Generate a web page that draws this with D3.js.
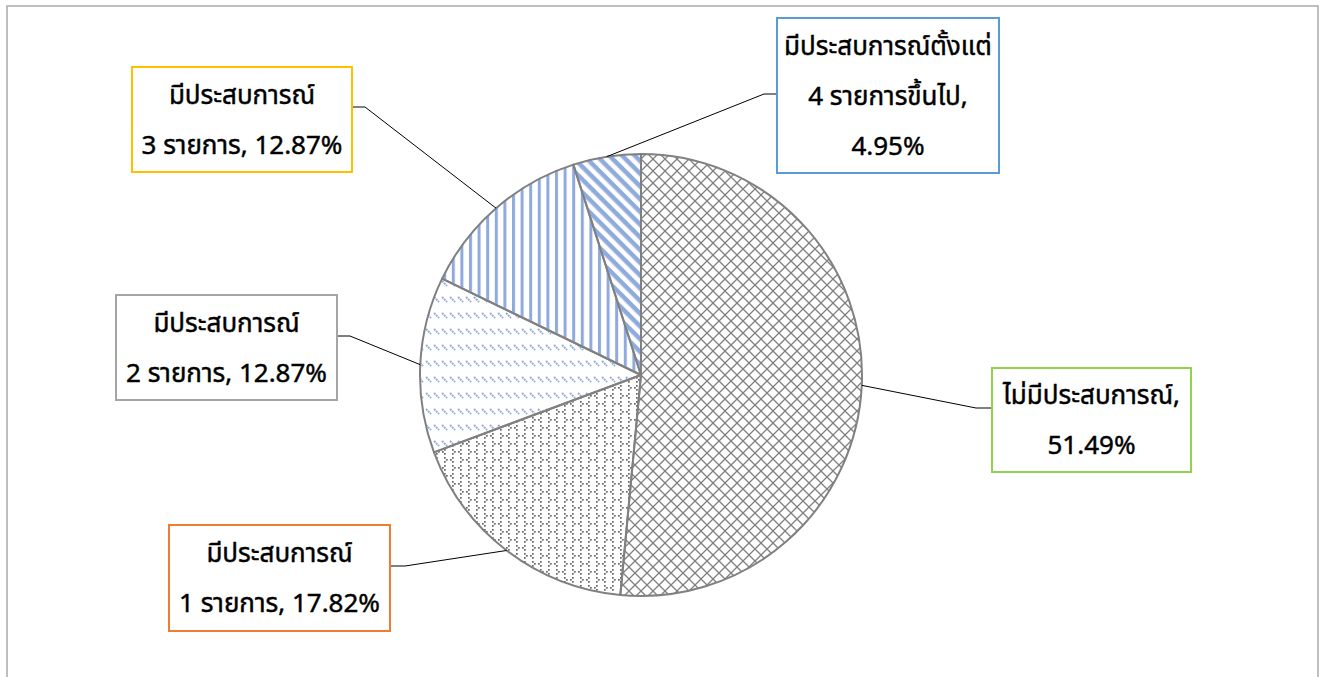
<!DOCTYPE html>
<html>
<head>
<meta charset="utf-8">
<script src="https://cdn.jsdelivr.net/npm/d3@7"></script>
<style>
  body { margin: 0; background: #fff; }
  svg text { font-family: Tahoma, "Noto Sans Thai", "Noto Sans", sans-serif; }
</style>
</head>
<body>
<div id="chart"></div>
<script>
var width = 1327;
var height = 677;

// data
var categories = ["ไม่มีประสบการณ์", "มีประสบการณ์ 1 รายการ", "มีประสบการณ์ 2 รายการ",
                  "มีประสบการณ์ 3 รายการ", "มีประสบการณ์ตั้งแต่ 4 รายการขึ้นไป"];
var values = [51.49, 17.82, 12.87, 12.87, 4.95];
var labelLines = [
  ["ไม่มีประสบการณ์,", "51.49%"],
  ["มีประสบการณ์", "1 รายการ, 17.82%"],
  ["มีประสบการณ์", "2 รายการ, 12.87%"],
  ["มีประสบการณ์", "3 รายการ, 12.87%"],
  ["มีประสบการณ์ตั้งแต่", "4 รายการขึ้นไป,", "4.95%"]
];
var boxColors = ["#92D050", "#ED7D31", "#A5A5A5", "#FFC000", "#5B9BD5"];
var patternIds = ["pDiamond", "pDots", "pDash", "pVert", "pWide"];

// label box layout (x, y, w, h) and elbow point of the leader line
var boxes = [
  {x: 992, y: 368, w: 199, h: 104, ex: 976, ey: 408, side: "left"},
  {x: 169, y: 525, w: 221, h: 106, ex: 405, ey: 566, side: "right"},
  {x: 116, y: 295, w: 221, h: 105, ex: 350, ey: 336, side: "right"},
  {x: 132, y: 67,  w: 220, h: 105, ex: 365, ey: 107, side: "right"},
  {x: 777, y: 18,  w: 222, h: 155, ex: 764, ey: 94,  side: "left"}
];

var cx = 641, cy = 375, radius = 221;
var blue = "#8FAADC", grey = "#7F7F7F";

var svg = d3.select("#chart").append("svg")
    .attr("width", width)
    .attr("height", height);

var defs = svg.append("defs");

// diamond lattice
var p0 = defs.append("pattern").attr("id", "pDiamond")
    .attr("patternUnits", "userSpaceOnUse").attr("width", 12).attr("height", 12);
p0.append("path").attr("d", "M0,0L12,12M12,0L0,12")
    .attr("stroke", grey).attr("stroke-width", 1.3).attr("fill", "none");

// small dotted chevrons
var p1 = defs.append("pattern").attr("id", "pDots")
    .attr("patternUnits", "userSpaceOnUse").attr("width", 16).attr("height", 16);
[[0, 4], [8, 12]].forEach(function(o) {
  var pts = [[o[0] + 3, o[1] - 2], [o[0] + 1, o[1]], [o[0] + 3, o[1] + 2],
             [o[0] + 11, o[1] - 2], [o[0] + 13, o[1]], [o[0] + 11, o[1] + 2]];
  pts.forEach(function(p) {
    p1.append("rect").attr("x", ((p[0] % 16) + 16) % 16).attr("y", ((p[1] % 16) + 16) % 16)
      .attr("width", 1.7).attr("height", 1.7).attr("fill", "#666");
  });
});

// dashed downward diagonal
var p2 = defs.append("pattern").attr("id", "pDash")
    .attr("patternUnits", "userSpaceOnUse").attr("width", 8).attr("height", 16);
p2.append("path").attr("d", "M1,2L6,7")
    .attr("stroke", blue).attr("stroke-width", 2).attr("stroke-dasharray", "2,0.8");

// vertical stripes
var p3 = defs.append("pattern").attr("id", "pVert")
    .attr("patternUnits", "userSpaceOnUse").attr("width", 8.6).attr("height", 10);
p3.append("rect").attr("x", 0).attr("y", 0).attr("width", 3).attr("height", 10).attr("fill", blue);

// wide downward diagonal
var p4 = defs.append("pattern").attr("id", "pWide")
    .attr("patternUnits", "userSpaceOnUse").attr("width", 9).attr("height", 9)
    .attr("patternTransform", "rotate(45)");
p4.append("rect").attr("x", 0).attr("y", 0).attr("width", 9).attr("height", 4.5).attr("fill", blue);

// chart area border
svg.append("rect")
    .attr("x", 7).attr("y", 6).attr("width", 1311).attr("height", 720)
    .attr("fill", "none").attr("stroke", "#ABABAB").attr("stroke-width", 1.5);

var pie = d3.pie().sort(null).value(function(d) { return d; });
var arcs = pie(values);
var arc = d3.arc().innerRadius(0).outerRadius(radius);
var edgeArc = d3.arc().innerRadius(radius).outerRadius(radius);

var g = svg.append("g").attr("transform", "translate(" + cx + "," + cy + ")");

g.selectAll("path.bg")
    .data(arcs).enter().append("path")
    .attr("d", arc).attr("fill", "#fff");

g.selectAll("path.slice")
    .data(arcs).enter().append("path")
    .attr("class", "slice")
    .attr("d", arc)
    .attr("fill", function(d, i) { return "url(#" + patternIds[i] + ")"; })
    .attr("stroke", "#808080")
    .attr("stroke-width", 2)
    .attr("stroke-linejoin", "round");

// leader lines
svg.selectAll("polyline.leader")
    .data(arcs).enter().append("polyline")
    .attr("points", function(d, i) {
      var c = edgeArc.centroid(d);
      var b = boxes[i];
      var bx = b.side === "left" ? b.x : b.x + b.w;
      return [[cx + c[0], cy + c[1]], [b.ex, b.ey], [bx, b.ey]].join(" ");
    })
    .attr("fill", "none").attr("stroke", "#000").attr("stroke-width", 1);

// label boxes
var lab = svg.selectAll("g.label")
    .data(labelLines).enter().append("g")
    .attr("class", "label");

lab.append("rect")
    .attr("x", function(d, i) { return boxes[i].x; })
    .attr("y", function(d, i) { return boxes[i].y; })
    .attr("width", function(d, i) { return boxes[i].w; })
    .attr("height", function(d, i) { return boxes[i].h; })
    .attr("fill", "#fff")
    .attr("stroke", function(d, i) { return boxColors[i]; })
    .attr("stroke-width", 2);

lab.each(function(lines, i) {
  var b = boxes[i];
  var mid = b.y + b.h / 2;
  d3.select(this).selectAll("text")
    .data(lines).enter().append("text")
    .attr("x", b.x + b.w / 2)
    .attr("y", function(t, j) { return mid + (j - (lines.length - 1) / 2) * 50 + 9; })
    .attr("text-anchor", "middle")
    .attr("font-size", 26)
    .attr("fill", "#000")
    .attr("stroke", "#000")
    .attr("stroke-width", 0.45)
    .text(function(t) { return t; });
});
</script>
</body>
</html>
